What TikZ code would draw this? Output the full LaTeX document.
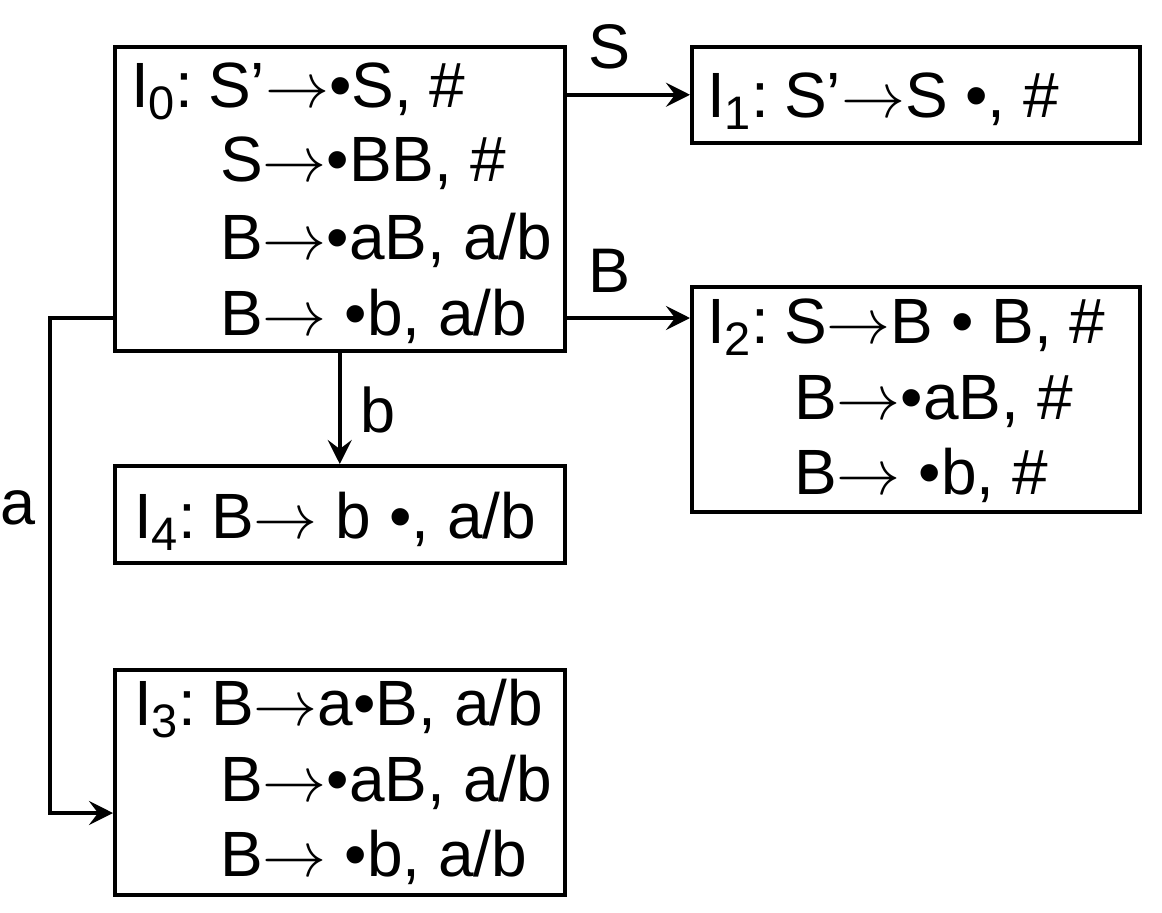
\documentclass[tikz,border=0pt]{standalone}
\usepackage{fix-cm}
\usepackage{fontspec}
\setmainfont{Liberation Sans}
\usetikzlibrary{arrows.meta}
\newcommand\sbs[1]{\raisebox{-0.2em}{\fontsize{47bp}{47bp}\selectfont #1}}
\newcommand\ra{$\rightarrow$}
\newcommand\csp{:\kern0.24em}
\begin{document}
\begin{tikzpicture}[x=1bp,y=-1bp,
  box/.style={draw, line width=3.5bp, rectangle, inner sep=0pt, anchor=north west},
  txt/.style={inner sep=0pt, anchor=base west, font=\fontsize{64bp}{64bp}\selectfont},
  lbl/.style={inner sep=0pt, anchor=base, font=\fontsize{63bp}{63bp}\selectfont},
  arr/.style={line width=3.5bp, -{Stealth[length=24bp,width=24bp,inset=9bp]}}]
\useasboundingbox (0,0) rectangle (1162,913);
% boxes
\node[box, minimum width=450bp, minimum height=304bp] (I0) at (113,45) {};
\node[box, minimum width=448bp, minimum height=96bp] (I1) at (690,45) {};
\node[box, minimum width=448bp, minimum height=225bp] (I2) at (690,285) {};
\node[box, minimum width=450bp, minimum height=97bp] (I4) at (113,464) {};
\node[box, minimum width=450bp, minimum height=225bp] (I3) at (113,668) {};
% texts
\node[txt] (t0a) at (131,107) {I\sbs{0}\csp S’\ra•S, \#};
\node[txt] (t0b) at (220,181) {S\ra•BB, \#};
\node[txt] (t0c) at (220,259) {B\ra•aB, a/b};
\node[txt] (t0d) at (220,335) {B\ra{} •b, a/b};
\node[txt] (t1a) at (707,117) {I\sbs{1}\csp S’\ra S •, \#};
\node[txt] (t2a) at (707,343) {I\sbs{2}\csp S\ra B • B, \#};
\node[txt] (t2b) at (794,419) {B\ra•aB, \#};
\node[txt] (t2c) at (794,494) {B\ra{} •b, \#};
\node[txt] (t4a) at (134,538) {I\sbs{4}\csp B\ra{} b •, a/b};
\node[txt] (t3a) at (134,725) {I\sbs{3}\csp B\ra a•B, a/b};
\node[txt] (t3b) at (220,801) {B\ra•aB, a/b};
\node[txt] (t3c) at (220,876) {B\ra{} •b, a/b};
% helper coordinates
\coordinate (yB) at (0,318);
\coordinate (yA) at (0,813);
\coordinate (aCorner) at (50,318);
% connectors
\draw[arr] (I0.east |- I1.west) -- (I1.west);
\draw[arr] (I0.east |- yB) -- (I2.west |- yB);
\draw[arr] (I0.south) -- (I4.north);
\draw[arr] (I0.west |- yB) -- (aCorner) |- (I3.west |- yA);
% labels
\node[lbl] (lS) at (610,68) {S};
\node[lbl] (lB) at (610,292) {B};
\node[lbl, anchor=base west] (lb) at (360,432) {b};
\node[lbl, anchor=base west] (la) at (0,524) {a};
\end{tikzpicture}
\end{document}
